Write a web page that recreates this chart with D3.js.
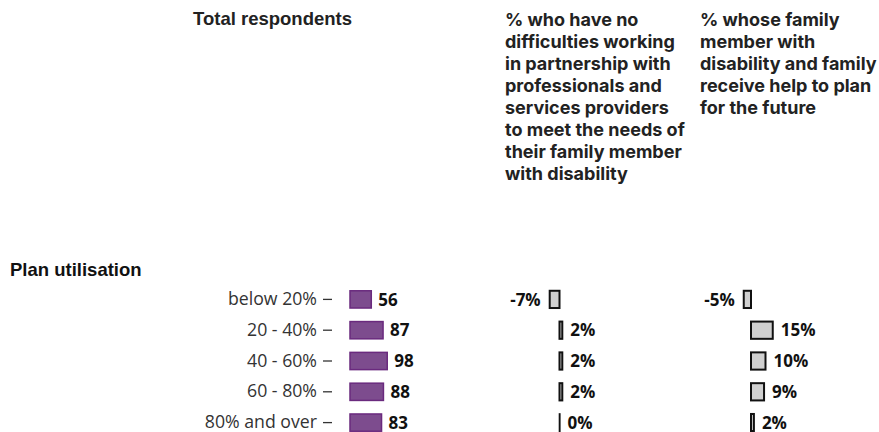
<!DOCTYPE html>
<html><head><meta charset="utf-8">
<script src="https://cdn.jsdelivr.net/npm/d3@7"></script>
<style>
body{margin:0;background:#fff;}
svg{display:block;}
</style></head>
<body><svg id="c" width="879" height="432"></svg>
<script>
const categories = ["below 20%", "20 - 40%", "40 - 60%", "60 - 80%", "80% and over"];
const totalRespondents = [56, 87, 98, 88, 83];
const noDifficulties = [-7, 2, 2, 2, 0];
const helpToPlan = [-5, 15, 10, 9, 2];
const sectionTitle = "Plan utilisation";
const header1 = ["Total respondents"];
const header2 = ["% who have no", "difficulties working", "in partnership with", "professionals and", "services providers", "to meet the needs of", "their family member", "with disability"];
const header3 = ["% whose family", "member with", "disability and family", "receive help to plan", "for the future"];

const svg = d3.select("#c");
const font = "'Open Sans', 'Noto Sans', sans-serif";
const titleFont = "'Liberation Sans', Arial, sans-serif";
const headFont = "Inter, 'Noto Sans', sans-serif";

const y = d3.scaleBand().domain(categories).range([284, 438]).paddingInner(0.44).paddingOuter(0.22);
const xTot = d3.scaleLinear().domain([0, 100]).range([350, 388]);
const x2 = d3.scaleLinear().domain([0, 10]).range([559.5, 573.5]);
const x3 = d3.scaleLinear().domain([0, 10]).range([751, 765.5]);

// headers
svg.append("text").attr("x", 193).attr("y", 25).attr("font-family", titleFont)
  .attr("font-weight", "bold").attr("font-size", 18.5).attr("fill", "#222").text(header1[0]);
function header(lines, x) {
  const t = svg.append("text").attr("font-family", headFont).attr("font-weight", 700)
    .attr("font-size", 18).attr("fill", "#222");
  lines.forEach((l, i) => t.append("tspan").attr("x", x).attr("y", 26 + i * 22).text(l));
}
header(header2, 505);
header(header3, 700);

svg.append("text").attr("x", 10).attr("y", 276).attr("font-family", titleFont)
  .attr("font-weight", "bold").attr("font-size", 18.5).attr("fill", "#111").text(sectionTitle);

// axis
const ax = svg.append("g").attr("transform", "translate(332,0)")
  .call(d3.axisLeft(y).tickSize(9).tickPadding(6));
ax.select(".domain").remove();
ax.selectAll(".tick line").attr("stroke", "#333").attr("stroke-width", 1.3);
ax.selectAll(".tick text").attr("font-family", font).attr("font-size", 17.7).attr("fill", "#333");

// total respondents bars
const bh = y.bandwidth();
svg.append("g").selectAll("rect").data(totalRespondents).join("rect")
  .attr("x", xTot(0)).attr("y", (d, i) => y(categories[i]))
  .attr("width", d => xTot(d) - xTot(0)).attr("height", bh)
  .attr("fill", "#7d4c8e").attr("stroke", "#6a2a7e").attr("stroke-width", 1.5);
svg.append("g").selectAll("text").data(totalRespondents).join("text")
  .attr("x", d => xTot(d) + 7).attr("y", (d, i) => y(categories[i]) + bh / 2)
  .attr("dy", "0.36em").attr("font-family", font).attr("font-weight", "bold")
  .attr("font-size", 17).attr("fill", "#111").text(d => d);

function pctCol(data, xs) {
  const g = svg.append("g");
  g.selectAll("rect").data(data).join("rect")
    .attr("x", d => Math.min(xs(d), xs(0))).attr("y", (d, i) => y(categories[i]))
    .attr("width", d => Math.max(Math.abs(xs(d) - xs(0)), 0.3)).attr("height", bh)
    .attr("fill", "#d0d0d0").attr("stroke", "#111").attr("stroke-width", d => d === 0 ? 1.6 : 2);
  g.selectAll("text").data(data).join("text")
    .attr("x", d => d < 0 ? xs(d) - 9 : xs(d) + 8)
    .attr("text-anchor", d => d < 0 ? "end" : "start")
    .attr("y", (d, i) => y(categories[i]) + bh / 2)
    .attr("dy", "0.36em").attr("font-family", font).attr("font-weight", "bold")
    .attr("font-size", 17).attr("fill", "#111").text(d => d + "%");
}
pctCol(noDifficulties, x2);
pctCol(helpToPlan, x3);
</script></body></html>
